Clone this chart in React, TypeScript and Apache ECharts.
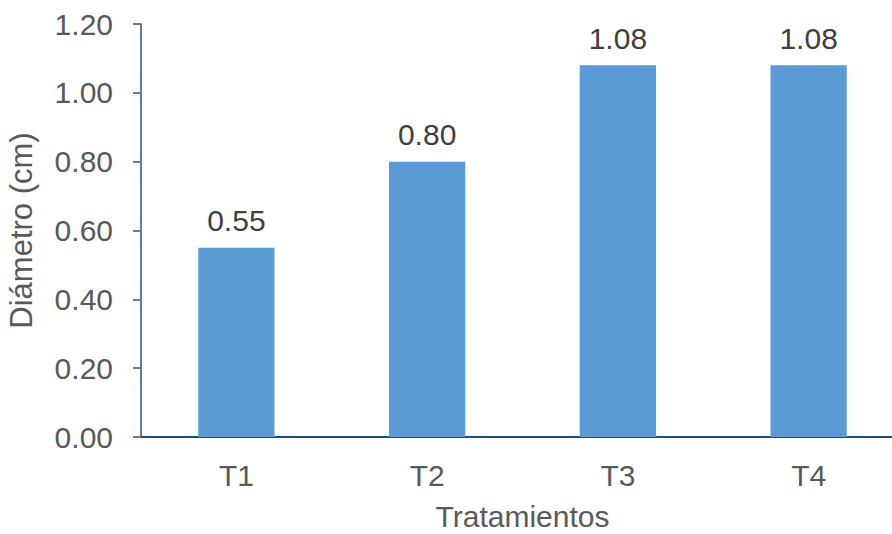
import React, { useEffect, useRef } from "react";
import * as echarts from "echarts";

const categories = ["T1", "T2", "T3", "T4"];
const values = [0.55, 0.8, 1.08, 1.08];
const yTicks = { min: 0, max: 1.2, interval: 0.2 };

export default function App() {
  const ref = useRef<HTMLDivElement>(null);
  useEffect(() => {
    if (!ref.current) return;
    const chart = echarts.init(ref.current, null, { renderer: "svg" });
    const font = "Liberation Sans, Arial, sans-serif";
    chart.setOption({
      animation: false,
      backgroundColor: "#ffffff",
      grid: { left: 141, right: 0, top: 24, bottom: 97, containLabel: false, outerBoundsMode: "none" },
      xAxis: {
        type: "category",
        data: categories,
        name: "Tratamientos",
        nameLocation: "middle",
        nameGap: 65,
        nameTextStyle: { fontFamily: font, fontSize: 30, lineHeight: 28, color: "#595959" },
        axisLine: { show: true, lineStyle: { color: "#1F4E79", width: 2 } },
        axisTick: { show: false },
        axisLabel: { fontFamily: font, fontSize: 30, color: "#595959", margin: 23 },
      },
      yAxis: {
        type: "value",
        min: yTicks.min,
        max: yTicks.max,
        interval: yTicks.interval,
        name: "Diámetro (cm)",
        nameLocation: "middle",
        nameGap: 104,
        nameTextStyle: { fontFamily: font, fontSize: 31, color: "#595959" },
        axisLine: { show: true, lineStyle: { color: "#5A7EAE", width: 2 } },
        axisTick: { show: true, inside: false, length: 8, lineStyle: { color: "#5A7EAE", width: 2 } },
        splitLine: { show: false },
        axisLabel: {
          fontFamily: font,
          fontSize: 30,
          color: "#595959",
          margin: 28,
          formatter: (v: number) => v.toFixed(2),
        },
      },
      series: [
        {
          type: "bar",
          data: values,
          barWidth: "40%",
          itemStyle: { color: "#5B9BD5" },
          label: {
            show: true,
            position: "top",
            distance: 12,
            fontFamily: font,
            fontSize: 30,
            color: "#404040",
            formatter: (p: any) => Number(p.value).toFixed(2),
          },
        },
      ],
    });
    return () => chart.dispose();
  }, []);
  return (
    <div style={{ position: "absolute", left: 0, top: 0, width: 892, height: 534, overflow: "hidden" }}>
      <div ref={ref} style={{ width: 904, height: 534 }} />
    </div>
  );
}
